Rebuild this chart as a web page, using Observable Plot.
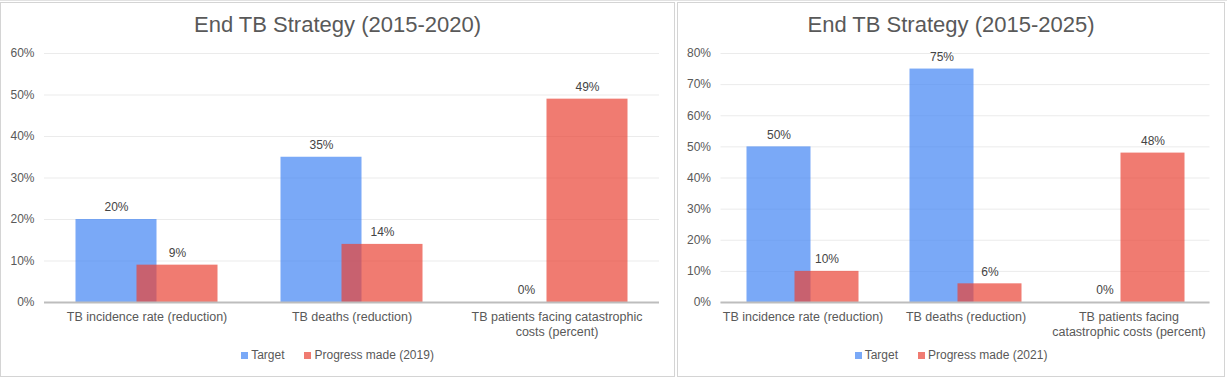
<!DOCTYPE html>
<html>
<head>
<meta charset="utf-8">
<script src="https://cdn.jsdelivr.net/npm/d3@7"></script>
<script src="https://cdn.jsdelivr.net/npm/@observablehq/plot@0.6"></script>
<style>
  html, body { margin: 0; padding: 0; background: #ffffff; }
  body { width: 1227px; height: 379px; position: relative; overflow: hidden;
         font-family: "Liberation Sans", Arial, sans-serif; }
  .sheetline { position: absolute; background: #e2e2e2; }
  .box { position: absolute; border: 1px solid #d4d4d4; background: #fff; box-sizing: border-box; }
  .title { position: absolute; left: 0; right: 0; text-align: center; font-size: 22px;
           line-height: 24px; color: #595959; }
  .chart { position: absolute; left: 0; }
  .legend { position: absolute; left: 0; right: 0; display: flex; justify-content: center;
            align-items: center; font-size: 12px; line-height: 14px; color: #595959; }
  .legend .item { display: flex; align-items: center; margin: 0 10px; }
  .legend .sw { width: 7px; height: 7px; margin-right: 3px; }
</style>
</head>
<body>
<div class="sheetline" style="left:0;top:0;width:1227px;height:1px;"></div>
<div id="box1" class="box" style="left:0;top:2px;width:675px;height:375px;"></div>
<div id="box2" class="box" style="left:677px;top:2px;width:548px;height:375px;"></div>
<script>
// ---- data ----
const categories = [
  "TB incidence rate (reduction)",
  "TB deaths (reduction)",
  "TB patients facing catastrophic costs (percent)"
];
const tickLabels2020 = [
  "TB incidence rate (reduction)",
  "TB deaths (reduction)",
  "TB patients facing catastrophic\ncosts (percent)"
];
const tickLabels2025 = [
  "TB incidence rate (reduction)",
  "TB deaths (reduction)",
  "TB patients facing\ncatastrophic costs (percent)"
];
const seriesNames2020 = ["Target", "Progress made (2019)"];
const seriesNames2025 = ["Target", "Progress made (2021)"];
const target2020 = [0.20, 0.35, 0.00];
const progress2020 = [0.09, 0.14, 0.49];
const target2025 = [0.50, 0.75, 0.00];
const progress2025 = [0.10, 0.06, 0.48];
const yTicks2020 = [0, 0.1, 0.2, 0.3, 0.4, 0.5, 0.6];
const yTicks2025 = [0, 0.1, 0.2, 0.3, 0.4, 0.5, 0.6, 0.7, 0.8];
const titles = ["End TB Strategy (2015-2020)", "End TB Strategy (2015-2025)"];

// ---- styles ----
const BLUE = "#4285F4", RED = "#EA4335", OPAC = 0.7;
const FONT = "'Liberation Sans', Arial, sans-serif";
const pct = v => Math.round(v * 100) + "%";

function build(boxId, cfg) {
  const box = document.getElementById(boxId);
  const rows = categories.map((c, i) => ({category: c, target: cfg.target[i], progress: cfg.progress[i]}));
  const labelMap = new Map(categories.map((c, i) => [c, cfg.tickLabels[i]]));

  const t = document.createElement("div");
  t.className = "title"; t.style.top = "10px"; t.textContent = cfg.title;
  box.appendChild(t);

  const plot = Plot.plot({
    width: cfg.width, height: 300,
    marginLeft: cfg.ml, marginRight: cfg.mr, marginTop: 13, marginBottom: 38,
    style: {fontFamily: FONT, fontSize: "12px", color: "#595959", background: "transparent", overflow: "visible"},
    x: {type: "band", domain: categories, padding: 0, label: null},
    y: {domain: [0, cfg.ymax], label: null},
    marks: [
      Plot.gridY(cfg.yTicks, {stroke: "#ebebeb", strokeOpacity: 1}),
      Plot.axisY(cfg.yTicks, {tickSize: 0, tickPadding: 10, tickFormat: pct, fontSize: 12, fill: "#595959", label: null}),
      Plot.axisX({tickSize: 0, tickPadding: 8, tickFormat: d => labelMap.get(d), fontSize: 12.5, lineHeight: 1.2, fill: "#595959", label: null}),
      Plot.barY(rows, {x: "category", y: "target", fill: BLUE, fillOpacity: OPAC, insetLeft: cfg.outer, insetRight: cfg.inner}),
      Plot.barY(rows, {x: "category", y: "progress", fill: RED, fillOpacity: OPAC, insetLeft: cfg.inner, insetRight: cfg.outer}),
      Plot.ruleY([0], {stroke: "#bdbdbd", strokeWidth: 2}),
      Plot.text(rows, {x: "category", y: "target", text: d => pct(d.target), dx: -cfg.shift, dy: -12, fontSize: 12, fill: "#444"}),
      Plot.text(rows, {x: "category", y: "progress", text: d => pct(d.progress), dx: cfg.shift, dy: -12, fontSize: 12, fill: "#444"})
    ]
  });
  plot.classList.add("chart");
  plot.style.top = "37px";
  box.appendChild(plot);

  const lg = document.createElement("div");
  lg.className = "legend"; lg.style.top = "345px";
  [BLUE, RED].forEach((col, i) => {
    const it = document.createElement("div"); it.className = "item";
    const sw = document.createElement("div"); sw.className = "sw";
    sw.style.background = col; sw.style.opacity = OPAC;
    const tx = document.createElement("span"); tx.textContent = cfg.series[i];
    it.appendChild(sw); it.appendChild(tx); lg.appendChild(it);
  });
  box.appendChild(lg);
}

build("box1", {
  title: titles[0], width: 673, ml: 43, mr: 15, ymax: 0.6, yTicks: yTicks2020,
  target: target2020, progress: progress2020, tickLabels: tickLabels2020, series: seriesNames2020,
  outer: 31.5, inner: 92.5, shift: 30.5
});
build("box2", {
  title: titles[1], width: 546, ml: 42.5, mr: 14.5, ymax: 0.8, yTicks: yTicks2025,
  target: target2025, progress: progress2025, tickLabels: tickLabels2025, series: seriesNames2025,
  outer: 25.5, inner: 73.5, shift: 24
});
</script>
</body>
</html>
